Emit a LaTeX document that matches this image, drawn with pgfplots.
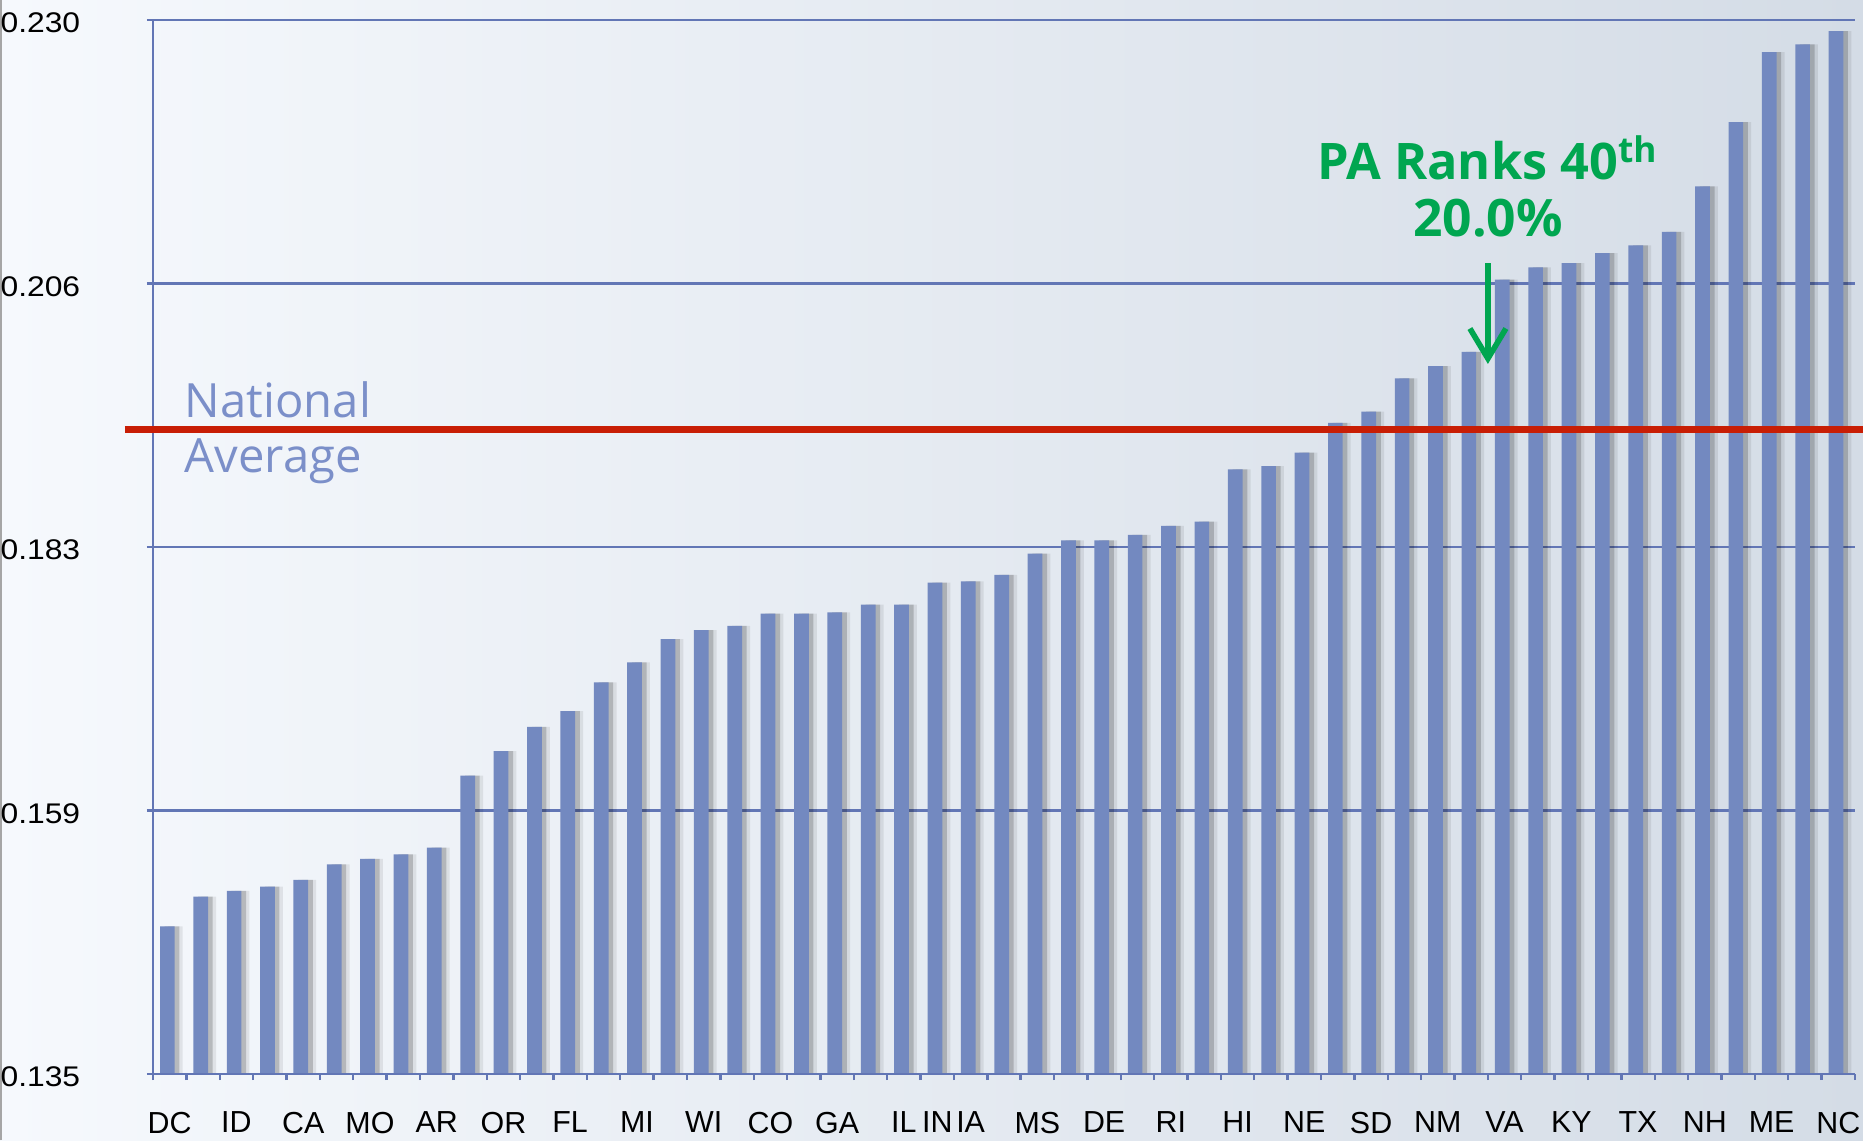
\documentclass[border=0pt]{standalone}
\usepackage{pgfplots}
\pgfplotsset{compat=1.18}
\usepackage{pgfplotstable}
\usepackage{fontspec}
\setmainfont{Liberation Sans}
\newfontfamily\ytickfont{Liberation Sans}[FakeStretch=1.12]
\newfontfamily\annfont{Open Sans}
\usetikzlibrary{arrows.meta}
\definecolor{barc}{HTML}{7389C0}
\definecolor{gridc}{HTML}{6276B5}
\definecolor{natc}{HTML}{7B8FC9}
\definecolor{redc}{HTML}{C81E05}
\definecolor{greenc}{HTML}{00A650}
\definecolor{bgl}{HTML}{F6F9FD}
\definecolor{bgr}{HTML}{D4DCE6}

\pgfplotstableread{
x v
0 0.1483
1 0.1510
2 0.1515
3 0.1519
4 0.1525
5 0.1539
6 0.1544
7 0.1548
8 0.1554
9 0.1619
10 0.1641
11 0.1663
12 0.1677
13 0.1703
14 0.1721
15 0.1742
16 0.1750
17 0.1754
18 0.1765
19 0.1765
20 0.1766
21 0.1773
22 0.1773
23 0.1793
24 0.1794
25 0.1800
26 0.1819
27 0.1831
28 0.1831
29 0.1836
30 0.1844
31 0.1848
32 0.1895
33 0.1898
34 0.1910
35 0.1937
36 0.1947
37 0.1977
38 0.1988
39 0.2001
40 0.2066
41 0.2077
42 0.2081
43 0.2090
44 0.2097
45 0.2109
46 0.2150
47 0.2208
48 0.2271
49 0.2278
50 0.2290
}\rates

\begin{document}
\begin{tikzpicture}
\useasboundingbox (0,0) rectangle (465.75pt,285pt);
\fill[left color=bgl, right color=bgr] (0,0) rectangle (465.75pt,285pt);
\draw[gray!70, line width=0.4pt] (0.2pt,0) -- (0.2pt,285pt);

% layer 1: grid + bars (clipped)
\begin{axis}[
  width=425.5pt, height=263.5pt, scale only axis,
  at={(38.25pt,16.5pt)}, anchor=south west,
  xmin=-0.5, xmax=50.5, ymin=0.135, ymax=0.230,
  ytick={0.135,0.15875,0.1825,0.20625,0.230}, yticklabels={},
  xtick=\empty, major tick length=0pt,
  ymajorgrids, grid style={color=gridc, line width=0.7pt},
  axis line style={draw=none},
]
\addplot[ybar, bar width=0.44, bar shift=0.17, fill=black, fill opacity=0.08, draw=none] table[x=x,y=v]{\rates};
\addplot[ybar, bar width=0.44, bar shift=0.07, fill=black, fill opacity=0.18, draw=none] table[x=x,y=v]{\rates};
\addplot[ybar, bar width=0.44, bar shift=-0.07, fill=barc, draw=none] table[x=x,y=v]{\rates};
\end{axis}

% layer 2: axis lines, ticks, labels, annotations
\begin{axis}[
  width=425.5pt, height=263.5pt, scale only axis,
  at={(38.25pt,16.5pt)}, anchor=south west,
  xmin=-0.5, xmax=50.5, ymin=0.135, ymax=0.230,
  clip=false,
  axis x line=bottom, axis y line=left,
  axis line style={color=gridc, line width=0.7pt, -},
  tick align=outside, major tick length=1.5pt, minor tick length=1.5pt,
  ytick={0.135,0.15875,0.1825,0.20625,0.230},
  yticklabels={0.135,0.159,0.183,0.206,0.230},
  ytick style={color=gridc, line width=0.7pt},
  yticklabel style={font=\ytickfont\fontsize{7.1}{8}\selectfont, anchor=east, inner sep=0pt, yshift=-0.7pt},
  yticklabel shift=16.5pt,
  xtick={0,2,4,6,8,10,12,14,16,18,20,22,23,24,26,28,30,32,34,36,38,40,42,44,46,48,50},
  xticklabels={DC,ID,CA,MO,AR,OR,FL,MI,WI,CO,GA,IL,IN,IA,MS,DE,RI,HI,NE,SD,NM,VA,KY,TX,NH,ME,NC},
  major x tick style={draw=none},
  minor xtick={-0.5,0.5,...,50.5},
  minor x tick style={color=gridc, line width=0.6pt},
  xticklabel style={font=\fontsize{7.6}{8}\selectfont, anchor=north, inner sep=0pt, yshift=-7.8pt},
]
\addplot[redc, line width=1.75pt] coordinates {(-1.34,0.1931) (50.74,0.1931)};
\addplot[greenc, line width=1.4pt, -{Straight Barb[length=7.5pt,width=9pt,line width=1.4pt]}] coordinates {(39.5,0.2081) (39.5,0.1990)};
\node[anchor=base west, text=natc, font=\annfont\fontsize{11.8}{14}\selectfont, inner sep=0pt] at (axis cs:0.43,0.1942) {National};
\node[anchor=base west, text=natc, font=\annfont\fontsize{11.8}{14}\selectfont, inner sep=0pt] at (axis cs:0.43,0.1892) {Average};
\node[anchor=base, text=greenc, font=\annfont\bfseries\fontsize{12.6}{14}\selectfont, inner sep=0pt] at (axis cs:39.5,0.2156) {PA Ranks 40\textsuperscript{th}};
\node[anchor=base, text=greenc, font=\annfont\bfseries\fontsize{12.9}{14}\selectfont, inner sep=0pt] at (axis cs:39.5,0.2105) {20.0\%};
\end{axis}
\end{tikzpicture}
\end{document}
